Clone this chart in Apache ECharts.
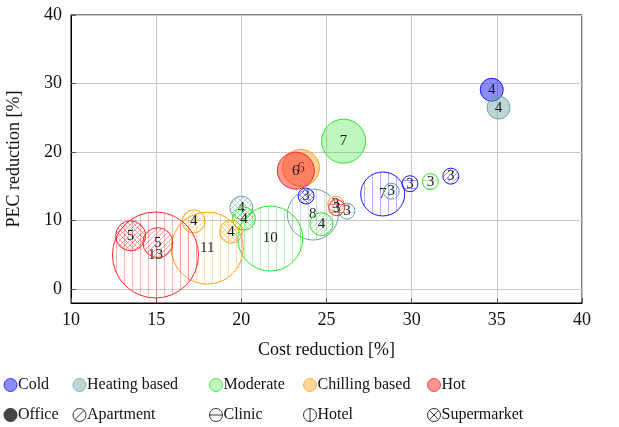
<!DOCTYPE html>
<html>
<head>
<meta charset="utf-8">
<script src="https://cdn.jsdelivr.net/npm/echarts@6/dist/echarts.min.js"></script>
<style>
  html, body { margin: 0; padding: 0; background: #fff; }
  #chart { width: 619px; height: 427px; }
</style>
</head>
<body>
<div id="chart"></div>
<script>
// Climate groups and building types
const CLIMATES = ['Cold', 'Heating based', 'Moderate', 'Chilling based', 'Hot'];
const BUILDINGS = ['Office', 'Apartment', 'Clinic', 'Hotel', 'Supermarket'];

// Each row: [cost reduction %, PEC reduction %, count, building type]
const cold = [
  [34.7, 29.1, 4, 'Office'],
  [23.8, 13.6, 3, 'Supermarket'],
  [28.3, 13.9, 7, 'Hotel'],
  [29.9, 15.4, 3, 'Clinic'],
  [32.3, 16.5, 3, 'Apartment']
];
const heating = [
  [35.1, 26.5, 4, 'Office'],
  [24.2, 10.9, 8, 'Hotel'],
  [28.8, 14.3, 3, 'Apartment'],
  [26.2, 11.4, 3, 'Clinic'],
  [20.0, 11.9, 4, 'Supermarket']
];
const moderate = [
  [26.0, 21.6, 7, 'Office'],
  [21.7, 7.4, 10, 'Hotel'],
  [24.7, 9.5, 4, 'Apartment'],
  [31.1, 15.7, 3, 'Clinic'],
  [20.15, 10.3, 4, 'Supermarket']
];
const chilling = [
  [23.5, 17.7, 6, 'Office'],
  [18.0, 6.0, 11, 'Hotel'],
  [17.2, 9.9, 4, 'Apartment'],
  [19.4, 8.4, 4, 'Supermarket'],
  [25.55, 12.4, 3, 'Clinic']
];
const hot = [
  [23.2, 17.3, 6, 'Office'],
  [14.96, 5.0, 13, 'Hotel'],
  [13.5, 7.8, 5, 'Supermarket'],
  [15.1, 6.8, 5, 'Apartment'],
  [25.6, 11.9, 3, 'Clinic']
];
const groups = [cold, heating, moderate, chilling, hot];

// Axis ticks
const xTicks = [10, 15, 20, 25, 30, 35, 40];
const yTicks = [0, 10, 20, 30, 40];

const SERIF = '"Liberation Serif", "DejaVu Serif", serif';

// Per-climate styling
const strokeRGB = [[26, 26, 255], [111, 163, 163], [46, 230, 46], [255, 163, 26], [255, 42, 42]];
const fillAlpha = [0.5, 0.45, 0.3, 0.45, 0.5];
const rgba = (c, a) => `rgba(${c[0]},${c[1]},${c[2]},${a})`;

// Hatch tiles for the building types
function hatch(color, kind) {
  const s = (kind === 'h' || kind === 'v') ? 8 : 5;
  const cv = document.createElement('canvas');
  cv.width = s; cv.height = s;
  const g = cv.getContext('2d');
  g.strokeStyle = color;
  g.lineWidth = 1;
  g.beginPath();
  if (kind === 'v') { g.moveTo(s / 2 + 0.5, 0); g.lineTo(s / 2 + 0.5, s); }
  if (kind === 'h') { g.moveTo(0, s / 2 + 0.5); g.lineTo(s, s / 2 + 0.5); }
  if (kind === 'ne' || kind === 'x') {
    for (const k of [-s, 0, s]) { g.moveTo(k, s); g.lineTo(k + s, 0); }
  }
  if (kind === 'x') {
    for (const k of [-s, 0, s]) { g.moveTo(k, 0); g.lineTo(k + s, s); }
  }
  g.stroke();
  return { image: cv, repeat: 'repeat' };
}

const fills = strokeRGB.map((c, i) => ({
  Office: rgba(c, fillAlpha[i]),
  Apartment: hatch(rgba(c, 0.45), 'ne'),
  Clinic: hatch(rgba(c, 0.45), 'h'),
  Hotel: hatch(rgba(c, 0.35), 'v'),
  Supermarket: hatch(rgba(c, 0.45), 'x')
}));

// Bubble radius in px from the count
const radiusOf = n => 3.5 * n - 2.5;

function makeRender(ci) {
  return function (params, api) {
    const p = api.coord([api.value(0), api.value(1)]);
    const n = api.value(2);
    const b = BUILDINGS[api.value(3)];
    return {
      type: 'group',
      children: [
        {
          type: 'circle',
          shape: { cx: p[0], cy: p[1], r: radiusOf(n) },
          style: { fill: fills[ci][b], stroke: rgba(strokeRGB[ci], 1), lineWidth: 1 }
        },
        {
          type: 'text',
          style: {
            text: String(n), x: p[0], y: p[1],
            align: 'center', verticalAlign: 'middle',
            font: '15px ' + SERIF, fill: '#1a1a1a'
          }
        }
      ]
    };
  };
}

const series = groups.map((rows, ci) => ({
  type: 'custom',
  name: CLIMATES[ci],
  clip: true,
  renderItem: makeRender(ci),
  data: rows.map(r => [r[0], r[1], r[2], BUILDINGS.indexOf(r[3])])
}));

// Legend drawn as graphics: climates (top row) and building types (bottom row)
const legendX = [10.5, 79.5, 216, 310, 434];
const row1Y = 385, row2Y = 415, iconR = 6.5;
const legendGraphics = [];
CLIMATES.forEach((name, i) => {
  const cx = legendX[i];
  legendGraphics.push({
    type: 'circle', shape: { cx, cy: row1Y, r: iconR },
    style: { fill: rgba(strokeRGB[i], fillAlpha[i]), stroke: rgba(strokeRGB[i], 0.8), lineWidth: 1 }
  });
  legendGraphics.push({
    type: 'text', x: cx + iconR + 1, y: row1Y,
    style: { text: name, font: '16px ' + SERIF, fill: '#111', verticalAlign: 'middle' }
  });
});
BUILDINGS.forEach((name, i) => {
  const cx = legendX[i], cy = row2Y, r = iconR, d = r * 0.707;
  const ink = '#333';
  legendGraphics.push({
    type: 'circle', shape: { cx, cy, r },
    style: { fill: name === 'Office' ? '#444' : 'none', stroke: ink, lineWidth: 1 }
  });
  const segs = {
    Apartment: [[cx - d, cy + d, cx + d, cy - d]],
    Clinic: [[cx - r, cy, cx + r, cy]],
    Hotel: [[cx, cy - r, cx, cy + r]],
    Supermarket: [[cx - d, cy + d, cx + d, cy - d], [cx - d, cy - d, cx + d, cy + d]]
  }[name] || [];
  segs.forEach(s => legendGraphics.push({
    type: 'line', shape: { x1: s[0], y1: s[1], x2: s[2], y2: s[3] },
    style: { stroke: ink, lineWidth: 1 }
  }));
  legendGraphics.push({
    type: 'text', x: cx + iconR + 1, y: cy,
    style: { text: name, font: '16px ' + SERIF, fill: '#111', verticalAlign: 'middle' }
  });
});

const axisCommon = {
  nameLocation: 'middle',
  nameTextStyle: { fontFamily: SERIF, fontSize: 18, color: '#111' },
  axisLine: { show: true, onZero: false, lineStyle: { color: '#000', width: 1 } },
  splitLine: { show: true, lineStyle: { color: '#c8c8c8', width: 1 } }
};

const chart = echarts.init(document.getElementById('chart'), null, { renderer: 'canvas' });
chart.setOption({
  animation: false,
  backgroundColor: '#fff',
  grid: {
    left: 71, right: 37, top: 15, bottom: 124,
    show: true, borderColor: '#000', borderWidth: 1,
    containLabel: false, outerBoundsMode: 'none'
  },
  xAxis: Object.assign({}, axisCommon, {
    type: 'value', min: xTicks[0], max: xTicks[xTicks.length - 1], interval: 5,
    name: 'Cost reduction [%]', nameGap: 38,
    axisTick: { show: true, inside: true, length: 5, lineStyle: { color: '#555' } },
    axisLabel: { fontFamily: SERIF, fontSize: 18, color: '#111', margin: 8 }
  }),
  yAxis: Object.assign({}, axisCommon, {
    type: 'value', min: -2, max: 40,
    name: 'PEC reduction [%]', nameGap: 48,
    axisTick: { show: true, inside: true, length: 5, customValues: yTicks, lineStyle: { color: '#555' } },
    axisLabel: { fontFamily: SERIF, fontSize: 18, color: '#111', margin: 9, customValues: yTicks }
  }),
  graphic: legendGraphics,
  series: series
});
</script>
</body>
</html>
